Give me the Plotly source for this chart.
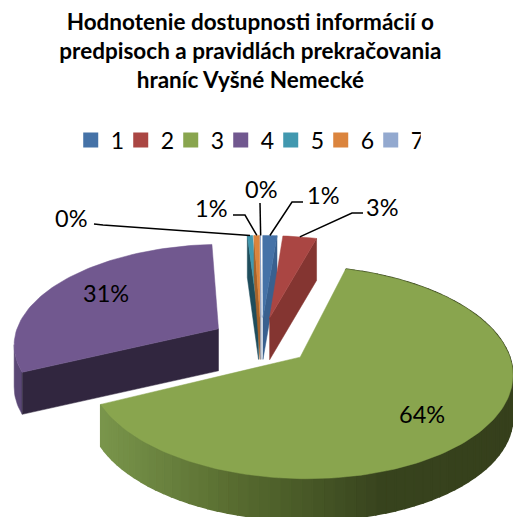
import math
import plotly.graph_objects as go

# ---- data ----
categories = ["1", "2", "3", "4", "5", "6", "7"]
values = [1.3, 3.1, 63.6, 30.95, 0.49, 0.51, 0.05]
percent_labels = [f"{round(v)}%" for v in values]
title_lines = ["Hodnotenie dostupnosti informácií o",
               "predpisoch a pravidlách prekračovania",
               "hraníc Vyšné Nemecké"]

# ---- style ----
top_colors = ["#4572A7", "#AA4643", "#89A54E", "#71588F", "#4198AF", "#DB843D", "#93A9CF"]
side_colors = ["#39608F", "#843531", "#5D7434", "#31263F", "#1F4D5C", "#A5622A", "#6F82A0"]
FONT = "Lato, Carlito, sans-serif"
W, H = 513, 517
CX, CY, RX, RY = 261, 341, 205, 99.6   # pie centre and projected radii
PERSP, PULL, DEPTH = 0.14, 0.245, 42
draw_order = [3, 4, 5, 6, 0, 1, 2]
# label centre (px) for outside labels and elbow end of the leader; inside labels have no leader
label_pos = {0: (323, 195), 1: (382, 207), 2: (422, 414), 3: (106, 293),
             4: (71, 218), 5: (211, 208), 6: (261, 189)}
leader_elbow = {0: [(303, 202), (292, 202)], 1: [(363, 213), (352, 213)],
                4: [(94, 224), (103, 225)], 5: [(233, 215), (245, 215)], 6: [(260, 203)]}

total = sum(values)
edges = [0.0]
for v in values:
    edges.append(edges[-1] + v / total * 2 * math.pi)


def project(theta, r, mid):
    u = PULL * math.sin(mid) + r * math.sin(theta)
    v = PULL * math.cos(mid) + r * math.cos(theta)
    d = 1 + PERSP * v
    return CX + RX * u / d, CY - RY * v / d


def lerp_color(x):
    stops = [(100, (122, 150, 76)), (235, (88, 108, 48)), (380, (56, 68, 30)), (513, (54, 64, 28))]
    for (x0, c0), (x1, c1) in zip(stops, stops[1:]):
        if x <= x1:
            t = max(0, (x - x0) / (x1 - x0))
            return "rgb(%d,%d,%d)" % tuple(a + (b - a) * t for a, b in zip(c0, c1))
    return "rgb(54,64,28)"


def poly(xs, ys, color, lw=0.5):
    return go.Scatter(x=xs, y=ys, mode="lines", fill="toself", fillcolor=color,
                      line=dict(color=color, width=lw), hoverinfo="skip", showlegend=False)


fig = go.Figure()
for i in draw_order:
    a0, a1 = edges[i], edges[i + 1]
    mid = (a0 + a1) / 2
    ax, ay = project(0, 0, mid)
    n = max(3, int((a1 - a0) * 40))
    arc = [project(a0 + (a1 - a0) * k / n, 1, mid) for k in range(n + 1)]

    # visible outer rim, left of the purple slice (drawn first, under the cut face)
    if i == 3:
        min_k = min(range(n + 1), key=lambda k: arc[k][0])
        rim = arc[:min_k + 1]
        xs = [p[0] for p in rim] + [p[0] for p in rim[::-1]]
        ys = [p[1] for p in rim] + [p[1] + DEPTH for p in rim[::-1]]
        fig.add_trace(poly(xs, ys, "#5A4775"))
    # side faces
    if i in (0, 1):       # cut edge on the right
        ex, ey = arc[-1]
        fig.add_trace(poly([ax, ex, ex, ax, ax], [ay, ey, ey + DEPTH, ay + DEPTH, ay], side_colors[i]))
    if i in (3, 4, 5, 6):  # cut edge on the left
        ex, ey = arc[0]
        fig.add_trace(poly([ax, ex, ex, ax, ax], [ay, ey, ey + DEPTH, ay + DEPTH, ay], side_colors[i]))
    if i == 2:            # outer rim of the large slice with a shading ramp
        m = 90
        for k in range(m):
            t0 = a0 + (a1 - a0) * k / m
            t1 = a0 + (a1 - a0) * (k + 1) / m
            x0, y0 = project(t0, 1, mid)
            x1, y1 = project(t1, 1, mid)
            fig.add_trace(poly([x0, x1, x1, x0, x0], [y0, y1, y1 + DEPTH, y0 + DEPTH, y0],
                               lerp_color((x0 + x1) / 2), lw=1.5))

    # top face
    xs = [ax] + [p[0] for p in arc] + [ax]
    ys = [ay] + [p[1] for p in arc] + [ay]
    fig.add_trace(poly(xs, ys, top_colors[i]))

# leader lines
for i, elbow in leader_elbow.items():
    a = (edges[i] + edges[i + 1]) / 2
    end = project(a, 1, a)
    pts = elbow + [end]
    fig.add_trace(go.Scatter(x=[p[0] for p in pts], y=[p[1] for p in pts], mode="lines",
                             line=dict(color="#000000", width=1.5), hoverinfo="skip", showlegend=False))

# legend entries
for name, color in zip(categories, top_colors):
    fig.add_trace(go.Scatter(x=[None], y=[None], mode="markers", name=name,
                             marker=dict(symbol="square", size=15, color=color)))

for i, (x, y) in label_pos.items():
    fig.add_annotation(x=x, y=y, text=percent_labels[i], showarrow=False,
                       font=dict(family=FONT, size=23.5, color="#000000"),
                       xanchor="center", yanchor="middle")

title_text = "<br>".join(title_lines)
fig.update_layout(
    width=W, height=H, margin=dict(l=0, r=0, t=0, b=0),
    paper_bgcolor="white", plot_bgcolor="white",
    xaxis=dict(range=[0, W], visible=False, fixedrange=True),
    yaxis=dict(range=[H, 0], visible=False, fixedrange=True),
    title=dict(text=f"<b>{title_text}</b>", x=0.488, xanchor="center", y=0.942, yanchor="top",
               font=dict(family=FONT, size=22.5, color="#000000")),
    legend=dict(orientation="h", x=0.479, xanchor="center", y=0.729, yanchor="middle",
                font=dict(family=FONT, size=23, color="#000000"), itemwidth=30,
                entrywidth=5, entrywidthmode="pixels",
                bgcolor="rgba(0,0,0,0)", traceorder="normal"),
)
fig.write_html("out.html", config={"displayModeBar": False},
               post_script="document.body.style.margin='0';document.body.style.overflow='hidden';")
